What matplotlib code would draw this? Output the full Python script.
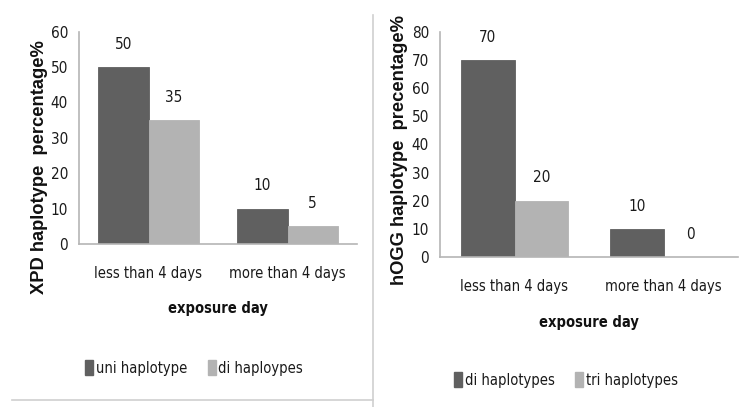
import matplotlib
matplotlib.use("Agg")
import matplotlib.pyplot as plt
from matplotlib.patches import Patch
from matplotlib.lines import Line2D
from matplotlib.font_manager import FontProperties

W, H = 742, 407

categories = ["less than 4 days", "more than 4 days"]

xpd_labels = ["uni haplotype", "di haploypes"]
xpd_values = [[50, 10], [35, 5]]

hogg_labels = ["di haplotypes", "tri haplotypes"]
hogg_values = [[70, 10], [20, 0]]

DARK = "#606060"
LIGHT = "#b3b3b3"
AXIS = "#b5b5b5"


def narrow(size, weight="normal"):
    return FontProperties(family=["DejaVu Sans"], stretch="condensed",
                          size=size, weight=weight)


def px_box(left, top, right, bottom):
    # pixel box (from top-left) -> figure fraction rect
    return [left / W, 1 - bottom / H, (right - left) / W, (bottom - top) / H]


def draw_panel(fig, box, values, labels, ymax, ylabel, ylabel_xy, xlabel_y, legend_xy):
    ax = fig.add_axes(px_box(*box))
    x = list(range(len(categories)))
    width = 0.36
    colors = [DARK, LIGHT]
    for i, (series, col) in enumerate(zip(values, colors)):
        pos = [xi + (i - 0.5) * width for xi in x]
        ax.bar(pos, series, width, color=col, edgecolor=col, linewidth=0.6)
        for p, v in zip(pos, series):
            ax.annotate(str(v), (p, v), xytext=(0, 11), textcoords="offset points",
                        ha="center", va="bottom", fontproperties=narrow(11),
                        color="#1a1a1a")
    ax.set_xlim(-0.5, len(categories) - 0.5)
    ax.set_ylim(0, ymax)
    ax.set_yticks(range(0, ymax + 1, 10))
    ax.set_xticks(x)
    ax.set_xticklabels(categories)
    ax.tick_params(length=0, colors="#1a1a1a")
    ax.tick_params(axis="x", pad=16)
    ax.tick_params(axis="y", pad=8)
    for lab in ax.get_xticklabels():
        lab.set_fontproperties(narrow(10.5))
    for lab in ax.get_yticklabels():
        lab.set_fontproperties(narrow(11))
    for side in ["top", "right"]:
        ax.spines[side].set_visible(False)
    for side in ["left", "bottom"]:
        ax.spines[side].set_color(AXIS)
        ax.spines[side].set_linewidth(1.2)

    left, top, right, bottom = box
    fig.text(ylabel_xy[0] / W, 1 - ylabel_xy[1] / H, ylabel, rotation=90,
             ha="center", va="center", fontsize=13.2, fontweight="bold",
             family=["Liberation Sans", "DejaVu Sans"], color="#111111")
    fig.text((left + right) / 2 / W, 1 - xlabel_y / H, "exposure day",
             ha="center", va="center", fontproperties=narrow(10.5, "bold"),
             color="#111111")
    handles = [Patch(facecolor=c, edgecolor=c) for c in colors]
    fig.legend(handles, labels, loc="center", ncol=2,
               bbox_to_anchor=(legend_xy[0] / W, 1 - legend_xy[1] / H),
               frameon=False, prop=narrow(10.5),
               handlelength=0.55, handleheight=1.2, handletextpad=0.2,
               columnspacing=1.4, labelcolor="#1a1a1a")
    return ax


fig = plt.figure(figsize=(W / 100, H / 100), dpi=100)

draw_panel(fig, (79, 31.6, 357, 244), xpd_values, xpd_labels, 60,
           "XPD haplotype  percentage%", (40, 167), 308, (194, 368))
draw_panel(fig, (440, 32, 738, 257), hogg_values, hogg_labels, 80,
           "hOGG haplotype  precentage%", (399, 150), 323, (566, 380))

# thin gray frame pieces between the two charts
fig.add_artist(Line2D([12 / W, 373 / W], [1 - 400 / H, 1 - 400 / H],
                      color="#cfcfcf", linewidth=1.2))
fig.add_artist(Line2D([373 / W, 373 / W], [1 - 15 / H, 0],
                      color="#cfcfcf", linewidth=1.2))

fig.savefig("out.png", dpi=100)
